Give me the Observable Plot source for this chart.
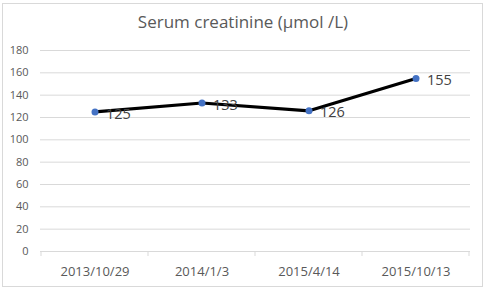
<!DOCTYPE html>
<html>
<head>
<meta charset="utf-8">
<script src="https://cdn.jsdelivr.net/npm/d3@7"></script>
<script src="https://cdn.jsdelivr.net/npm/@observablehq/plot@0.6"></script>
<style>
  html, body { margin: 0; padding: 0; background: #fff; }
  #wrap { position: relative; width: 486px; height: 291px; font-family: "Open Sans", "Noto Sans", sans-serif; }
  #frame { position: absolute; left: 2px; top: 3px; width: 479px; height: 282px; border: 1px solid #d9d9d9; }
  #title { position: absolute; left: 0; top: 10px; width: 486px; text-align: center; font-size: 17px; color: #595959; }
  #chart { position: absolute; left: 0; top: 0; }
</style>
</head>
<body>
<div id="wrap">
  <div id="frame"></div>
  <div id="chart"></div>
  <div id="title">Serum creatinine (μmol /L)</div>
</div>
<script>
const categories = ["2013/10/29", "2014/1/3", "2015/4/14", "2015/10/13"];
const values = [125, 133, 126, 155];
const yTicks = [0, 20, 40, 60, 80, 100, 120, 140, 160, 180];

const data = categories.map((c, i) => ({date: c, value: values[i]}));

const W = 486, H = 291;
const mL = 40, mR = 16, mT = 50, mB = 40;

// Category-boundary tick marks drawn through Plot's scales
function edgeTicks(index, scales) {
  const g = d3.create("svg:g");
  const x = scales.x, y = scales.y;
  const bw = x.bandwidth();
  const y0 = y(0);
  const edges = categories.map(c => x(c)).concat([x(categories[categories.length - 1]) + bw]);
  edges.forEach(e => {
    g.append("line").attr("x1", e).attr("x2", e).attr("y1", y0).attr("y2", y0 + 5)
      .attr("stroke", "#d9d9d9").attr("stroke-width", 1);
  });
  return g.node();
}

const chart = Plot.plot({
  width: W, height: H,
  marginLeft: mL, marginRight: mR, marginTop: mT, marginBottom: mB,
  style: {background: "transparent", fontFamily: "'Open Sans', 'Noto Sans', sans-serif", color: "#595959", overflow: "visible"},
  x: {type: "band", domain: categories, padding: 0, label: null},
  y: {domain: [0, 180], label: null},
  marks: [
    Plot.ruleY(yTicks, {stroke: "#d9d9d9", strokeWidth: 1}),
    edgeTicks,
    Plot.axisY({ticks: yTicks, tickSize: 0, tickPadding: 12, fontSize: 11, label: null, fill: "#595959"}),
    Plot.axisX({tickSize: 0, tickPadding: 15, fontSize: 13, label: null, fill: "#595959"}),
    Plot.line(data, {x: "date", y: "value", stroke: "#000", strokeWidth: 3.2, curve: "linear", strokeLinejoin: "round", strokeLinecap: "round"}),
    Plot.dot(data, {x: "date", y: "value", r: 3.5, fill: "#4472c4", stroke: "none"}),
    Plot.text(data, {x: "date", y: "value", text: d => String(d.value), textAnchor: "start", dx: 11, dy: 2, fontSize: 14.5, fill: "#404040"})
  ]
});
document.getElementById("chart").appendChild(chart);
</script>
</body>
</html>
